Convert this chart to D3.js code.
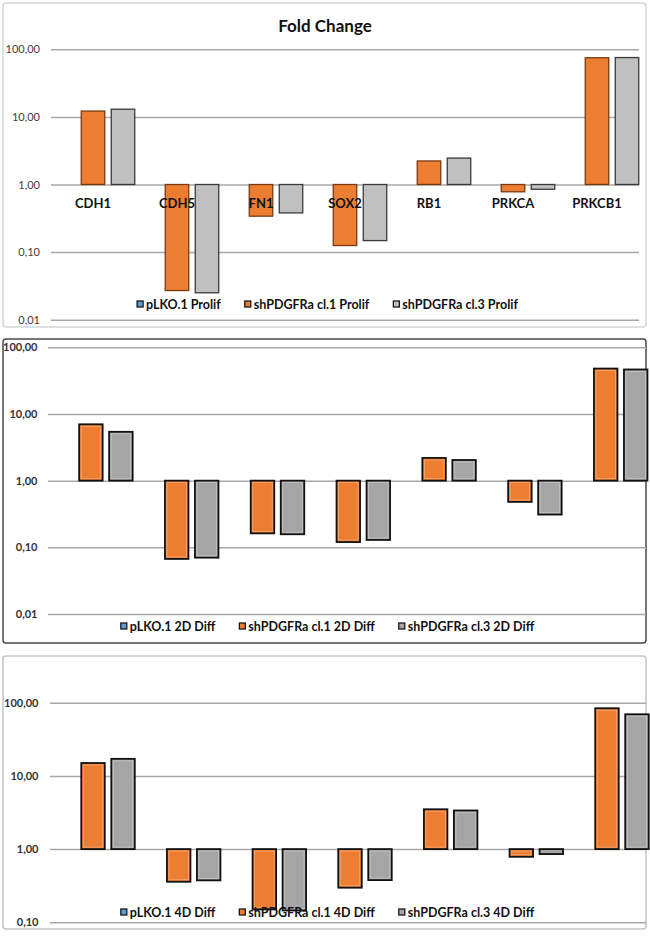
<!DOCTYPE html>
<html>
<head>
<meta charset="utf-8">
<script src="https://cdn.jsdelivr.net/npm/d3@7"></script>
<style>
  html, body { margin: 0; padding: 0; background: #ffffff; }
  svg { display: block; }
</style>
</head>
<body>
<svg id="chart" width="650" height="938"></svg>
<script>
// ---------------- DATA ----------------
const title = "Fold Change";
const categories = ["CDH1", "CDH5", "FN1", "SOX2", "RB1", "PRKCA", "PRKCB1"];

const seriesProlif = ["pLKO.1 Prolif", "shPDGFRa cl.1 Prolif", "shPDGFRa cl.3 Prolif"];
const prolifPLKO = [1, 1, 1, 1, 1, 1, 1];
const prolifCl1  = [12.2, 0.027, 0.34, 0.125, 2.23, 0.78, 75.0];
const prolifCl3  = [13.0, 0.025, 0.38, 0.148, 2.46, 0.85, 75.5];

const series2D = ["pLKO.1 2D Diff", "shPDGFRa cl.1 2D Diff", "shPDGFRa cl.3 2D Diff"];
const diff2DPLKO = [1, 1, 1, 1, 1, 1, 1];
const diff2DCl1  = [7.0, 0.067, 0.162, 0.120, 2.19, 0.48, 48.0];
const diff2DCl3  = [5.4, 0.070, 0.157, 0.129, 2.04, 0.31, 46.5];

const series4D = ["pLKO.1 4D Diff", "shPDGFRa cl.1 4D Diff", "shPDGFRa cl.3 4D Diff"];
const diff4DPLKO = [1, 1, 1, 1, 1, 1, 1];
const diff4DCl1  = [15.0, 0.358, 0.150, 0.297, 3.50, 0.785, 84.0];
const diff4DCl3  = [17.1, 0.374, 0.145, 0.377, 3.37, 0.855, 69.5];

const tickValuesWide = [0.01, 0.1, 1, 10, 100];
const tickLabelsWide = ["0,01", "0,10", "1,00", "10,00", "100,00"];
const tickValuesShort = [0.1, 1, 10, 100];
const tickLabelsShort = ["0,10", "1,00", "10,00", "100,00"];

// ---------------- STYLE / LAYOUT ----------------
const FONT = "Lato, 'Open Sans', 'DejaVu Sans', sans-serif";
const svg = d3.select("#chart");

const panels = [
  {
    box: [3, 3, 646, 327], boxStroke: "#d6d6d6",
    yDomain: [0.01, 100], yRange: [319.7, 49.3],
    xRange: [51, 639], gridX: [51, 639], labelX: 40,
    ticks: tickValuesWide, tickLabels: tickLabelsWide, tickWeight: 400, tickColor: "#404040",
    legendY: 305, series: seriesProlif, values: [prolifPLKO, prolifCl1, prolifCl3],
    colors: ["#5b9bd5", "#ed7d31", "#c0c0c0"], strokes: ["#1f3864", "#7a3a10", "#3a3a3a"],
    barStrokeW: 1.3, inner: false, showCats: true, catY: 208
  },
  {
    box: [3, 339, 646, 643], boxStroke: "#4a4a4a",
    yDomain: [0.01, 100], yRange: [614, 347.3],
    xRange: [48, 648.6], gridX: [48, 646], labelX: 37.5,
    ticks: tickValuesWide, tickLabels: tickLabelsWide, tickWeight: 700, tickColor: "#333333",
    legendY: 627, series: series2D, values: [diff2DPLKO, diff2DCl1, diff2DCl3],
    colors: ["#5b9bd5", "#ed7d31", "#a5a5a5"], strokes: ["#111111", "#111111", "#111111"],
    barStrokeW: 1.8, inner: true, showCats: false
  },
  {
    box: [3, 656, 646, 929], boxStroke: "#c4c4c4",
    yDomain: [0.1, 100], yRange: [922.3, 702.7],
    xRange: [50.2, 649.8], gridX: [50, 646], labelX: 38.5,
    ticks: tickValuesShort, tickLabels: tickLabelsShort, tickWeight: 700, tickColor: "#333333",
    legendY: 913, series: series4D, values: [diff4DPLKO, diff4DCl1, diff4DCl3],
    colors: ["#5b9bd5", "#ed7d31", "#a5a5a5"], strokes: ["#111111", "#111111", "#111111"],
    barStrokeW: 1.8, inner: true, showCats: false
  }
];

// Title
svg.append("text")
  .attr("x", 325).attr("y", 32)
  .attr("text-anchor", "middle")
  .attr("font-family", FONT).attr("font-weight", 700).attr("font-size", 17)
  .attr("fill", "#111")
  .text(title);

panels.forEach((p, pi) => {
  const g = svg.append("g");
  // Panel frame
  g.append("rect")
    .attr("x", p.box[0]).attr("y", p.box[1])
    .attr("width", p.box[2] - p.box[0]).attr("height", p.box[3] - p.box[1])
    .attr("rx", 3).attr("fill", "none")
    .attr("stroke", p.boxStroke).attr("stroke-width", 1.5);

  const y = d3.scaleLog().domain(p.yDomain).range(p.yRange);
  const x = d3.scaleBand().domain(categories).range(p.xRange).padding(0);
  const step = 30, barW = 23.5;
  const xs = d3.scaleBand().domain(p.series)
    .range([-1.5 * step, 1.5 * step])
    .paddingInner(1 - barW / step).paddingOuter((1 - barW / step) / 2);

  // Gridlines + tick labels via axis
  const axis = d3.axisLeft(y)
    .tickValues(p.ticks)
    .tickFormat((d, i) => p.tickLabels[i])
    .tickSize(-(p.gridX[1] - p.gridX[0]))
    .tickPadding(p.gridX[0] - p.labelX);
  const ax = g.append("g").attr("transform", `translate(${p.gridX[0]},0)`).call(axis);
  ax.select(".domain").remove();
  ax.selectAll(".tick line").attr("stroke", "#a8a8a8").attr("stroke-width", 1.5);
  ax.selectAll(".tick text")
    .attr("font-family", FONT).attr("font-size", 11)
    .attr("font-weight", p.tickWeight).attr("fill", p.tickColor);

  // Bars
  const base = y(1);
  p.series.forEach((s, si) => {
    const vals = p.values[si];
    const bars = g.append("g");
    vals.forEach((v, ci) => {
      if (v === 1) return;
      const cx = x(categories[ci]) + x.bandwidth() / 2 + xs(s);
      const yv = y(v);
      const top = Math.min(base, yv), h = Math.abs(base - yv);
      bars.append("rect")
        .attr("x", cx).attr("y", top)
        .attr("width", xs.bandwidth()).attr("height", h)
        .attr("fill", p.colors[si])
        .attr("stroke", p.strokes[si]).attr("stroke-width", p.barStrokeW);
      if (p.inner && h > 5) {
        bars.append("rect")
          .attr("x", cx + 2).attr("y", top + 2)
          .attr("width", xs.bandwidth() - 4).attr("height", h - 4)
          .attr("fill", "none")
          .attr("stroke", "#ffffff").attr("stroke-opacity", 0.35).attr("stroke-width", 0.8);
      }
    });
  });

  // Category labels
  if (p.showCats) {
    g.append("g").selectAll("text").data(categories).join("text")
      .attr("x", d => x(d) + x.bandwidth() / 2)
      .attr("y", p.catY)
      .attr("text-anchor", "middle")
      .attr("font-family", FONT).attr("font-weight", 700).attr("font-size", 13)
      .attr("fill", "#111")
      .text(d => d);
  }

  // Legend (centered)
  const lg = g.append("g");
  const items = lg.selectAll("g").data(p.series).join("g");
  items.append("rect")
    .attr("width", 6).attr("height", 6).attr("y", -8)
    .attr("fill", (d, i) => p.colors[i])
    .attr("stroke", "#1a1a1a").attr("stroke-width", 1.3);
  items.append("text")
    .attr("x", 9).attr("y", 0)
    .attr("font-family", FONT).attr("font-weight", 700).attr("font-size", 12.5)
    .attr("fill", "#111")
    .text(d => d);
  let cur = 0;
  const gap = 24;
  items.each(function () {
    const w = this.querySelector("text").getComputedTextLength() + 9;
    d3.select(this).attr("transform", `translate(${cur},0)`);
    cur += w + gap;
  });
  const total = cur - gap;
  lg.attr("transform", `translate(${327.5 - total / 2},${p.legendY + 4})`);
});
</script>
</body>
</html>
